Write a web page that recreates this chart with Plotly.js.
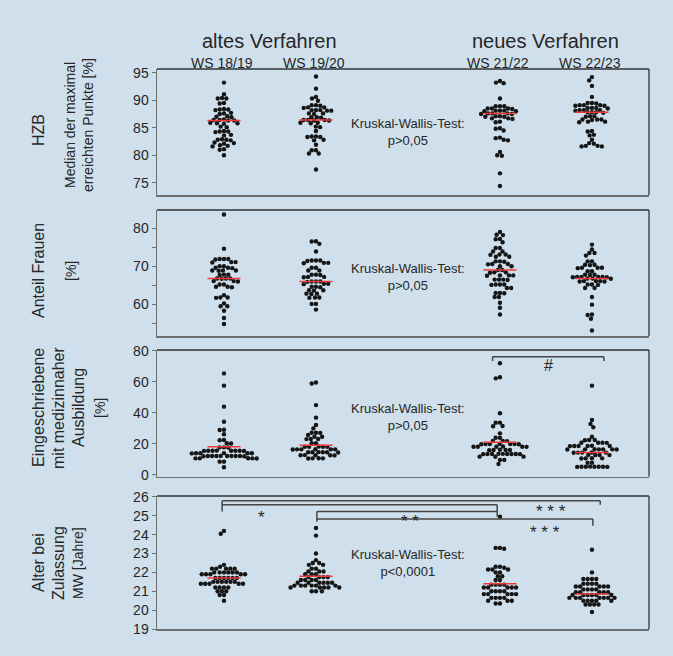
<!DOCTYPE html>
<html>
<head>
<meta charset="utf-8">
<script src="https://cdn.plot.ly/plotly-3.0.1.min.js"></script>
<style>html,body{margin:0;padding:0;background:#cfe0ec;}#chart{width:673px;height:656px;}</style>
</head>
<body>
<div id="chart"></div>
<script>
// ---------- data ----------
const categories = ['WS 18/19', 'WS 19/20', 'WS 21/22', 'WS 22/23'];
const groupTitles = ['altes Verfahren', 'neues Verfahren'];

const hzb_1819 = [93.2, 91.1, 90.4, 90.3, 90.3, 89.5, 89.4, 88.4, 88.3, 88.3, 88.2, 87.7, 87.6, 87.5, 87.1, 87.0, 86.9, 86.5, 86.4, 86.4, 86.3, 86.3, 85.9, 85.8, 85.8, 85.7, 85.2, 85.1, 84.4, 84.3, 84.3, 84.2, 83.7, 83.6, 82.9, 82.8, 82.8, 82.7, 82.3, 82.2, 82.1, 81.8, 81.7, 81.6, 81.1, 81.0, 80.0];
const hzb_1920 = [94.3, 92.1, 90.6, 90.3, 89.9, 89.1, 89.1, 89.0, 88.7, 88.7, 88.6, 88.2, 88.2, 88.2, 88.1, 88.1, 87.6, 87.6, 87.5, 86.9, 86.9, 86.8, 86.4, 86.4, 86.4, 86.3, 86.3, 85.9, 85.9, 85.8, 85.2, 85.1, 84.4, 83.4, 83.4, 83.3, 83.3, 82.8, 82.7, 81.9, 80.9, 80.9, 80.3, 80.3, 77.4];
const hzb_2122 = [93.5, 93.2, 93.1, 90.3, 88.9, 88.9, 88.9, 88.5, 88.5, 88.5, 88.4, 88.1, 88.1, 88.1, 88.0, 88.0, 87.6, 87.6, 87.6, 87.5, 87.5, 87.1, 87.1, 87.0, 87.0, 86.7, 86.7, 86.6, 86.1, 86.0, 84.9, 84.8, 84.5, 83.2, 83.1, 82.8, 82.7, 80.6, 80.0, 79.9, 76.7, 74.4];
const hzb_2223 = [94.2, 93.6, 92.6, 90.6, 89.5, 89.5, 89.4, 89.1, 89.1, 89.1, 89.0, 89.0, 88.6, 88.6, 88.6, 88.5, 88.2, 88.2, 88.2, 88.1, 87.8, 87.8, 87.8, 87.7, 87.1, 87.1, 87.0, 86.5, 86.5, 86.5, 86.4, 86.1, 86.1, 86.0, 84.4, 84.3, 83.7, 83.6, 82.8, 82.2, 82.1, 81.7, 81.7, 81.6, 81.6];
const hzb_mean = [86.3, 86.4, 87.6, 87.8];

const frauen_1819 = [83.6, 74.6, 71.9, 71.9, 71.8, 71.9, 71.1, 71.1, 71.0, 70.0, 70.0, 69.6, 69.6, 69.5, 68.9, 68.9, 68.8, 68.9, 67.8, 67.8, 67.7, 66.8, 66.8, 66.7, 66.8, 66.1, 66.1, 66.0, 65.2, 65.2, 64.6, 64.6, 64.5, 62.4, 61.8, 61.8, 61.7, 60.2, 59.5, 59.5, 58.3, 56.4, 54.8];
const frauen_1920 = [76.6, 76.5, 75.9, 73.9, 71.5, 71.5, 71.4, 71.5, 70.9, 70.9, 70.8, 69.6, 69.6, 68.9, 68.9, 67.8, 67.8, 67.7, 67.2, 67.2, 67.1, 66.0, 66.0, 65.9, 66.0, 65.4, 65.4, 65.3, 64.6, 64.6, 64.5, 63.7, 63.7, 63.6, 62.8, 62.8, 62.7, 61.8, 61.8, 61.7, 60.1, 60.1, 58.6];
const frauen_2122 = [79.0, 78.3, 78.2, 77.2, 77.1, 76.3, 74.8, 74.8, 73.9, 73.9, 73.1, 73.1, 73.0, 72.5, 72.5, 71.3, 71.3, 71.2, 70.6, 70.6, 70.5, 70.0, 70.0, 69.0, 69.0, 68.4, 68.4, 68.3, 67.6, 67.6, 67.5, 67.6, 66.5, 66.5, 66.4, 66.5, 65.2, 65.2, 65.1, 65.2, 64.3, 64.3, 63.0, 63.0, 62.9, 61.9, 61.9, 60.4, 59.1, 57.3];
const frauen_2223 = [75.7, 74.4, 73.5, 73.5, 72.8, 71.3, 71.3, 70.4, 70.4, 70.3, 69.6, 69.6, 69.5, 69.6, 68.7, 68.7, 67.8, 67.8, 67.7, 67.2, 67.2, 67.1, 67.2, 67.2, 67.1, 66.8, 66.8, 66.7, 66.1, 66.1, 66.0, 66.1, 66.0, 65.2, 65.2, 65.1, 64.3, 64.3, 61.9, 59.9, 57.3, 57.2, 56.2, 53.1];
const frauen_mean = [66.8, 66.0, 69.0, 66.8];

const med_1819 = [65.4, 57.5, 44.0, 34.3, 29.0, 29.1, 26.2, 22.5, 22.4, 20.4, 20.3, 17.8, 17.8, 17.7, 15.6, 15.6, 15.5, 15.6, 15.7, 15.6, 15.5, 15.6, 14.0, 14.0, 14.1, 13.9, 14.0, 14.0, 12.2, 12.2, 12.1, 12.2, 12.3, 12.2, 12.2, 12.1, 12.2, 12.2, 10.7, 10.7, 10.6, 10.7, 10.8, 8.6, 8.6, 5.0];
const med_1920 = [59.5, 58.9, 45.0, 36.9, 32.2, 30.0, 27.2, 27.2, 27.1, 25.7, 24.6, 24.6, 23.2, 23.2, 23.1, 20.4, 20.4, 18.2, 18.2, 18.1, 18.2, 18.3, 16.5, 16.5, 16.4, 16.5, 16.6, 16.5, 14.6, 14.6, 14.5, 14.6, 14.7, 14.6, 12.7, 12.7, 12.6, 12.7, 12.8, 10.7, 10.7, 10.6, 10.8];
const med_2122 = [71.9, 62.9, 62.2, 39.7, 33.7, 33.6, 31.5, 31.4, 26.8, 24.0, 24.0, 21.9, 21.9, 21.8, 19.9, 19.9, 19.8, 19.9, 20.0, 19.9, 19.8, 18.2, 18.2, 18.1, 18.2, 18.3, 18.2, 16.1, 16.1, 16.0, 16.1, 16.2, 13.5, 13.5, 13.4, 13.5, 13.6, 13.5, 13.4, 13.5, 13.6, 11.8, 11.8, 11.7, 9.7, 9.7, 7.1];
const med_2223 = [57.5, 35.4, 32.8, 30.7, 24.6, 22.5, 22.5, 22.4, 20.8, 20.8, 20.7, 20.8, 18.7, 18.7, 18.6, 18.7, 18.8, 18.7, 16.5, 16.5, 16.4, 16.5, 16.6, 16.5, 16.4, 14.4, 14.4, 14.3, 14.4, 14.5, 12.9, 12.9, 12.8, 12.9, 10.7, 10.7, 10.6, 10.8, 7.9, 7.9, 5.3, 5.3, 5.2, 5.3, 5.4, 5.3, 5.2, 5.3];
const med_mean = [18.2, 19.1, 21.0, 14.4];

const alter_1819 = [24.2, 24.05, 22.4, 22.3, 22.2, 22.2, 22.2, 22.2, 22.2, 22.0, 22.0, 22.0, 22.0, 22.0, 22.0, 21.9, 21.9, 21.9, 21.9, 21.9, 21.7, 21.7, 21.7, 21.7, 21.7, 21.7, 21.5, 21.5, 21.5, 21.5, 21.5, 21.5, 21.4, 21.4, 21.4, 21.4, 21.4, 21.2, 21.2, 21.2, 21.2, 21.0, 21.0, 21.0, 20.8, 20.8, 20.5];
const alter_1920 = [24.35, 23.95, 23.0, 22.65, 22.5, 22.5, 22.4, 22.4, 22.2, 22.2, 22.05, 22.05, 22.05, 21.9, 21.9, 21.9, 21.75, 21.75, 21.75, 21.75, 21.6, 21.6, 21.6, 21.6, 21.45, 21.45, 21.45, 21.45, 21.45, 21.45, 21.3, 21.3, 21.3, 21.3, 21.3, 21.3, 21.2, 21.2, 21.2, 21.2, 21.2, 21.0, 21.0, 21.0];
const alter_2122 = [24.95, 23.3, 23.3, 23.25, 22.3, 22.3, 22.25, 22.15, 22.15, 22.15, 22.0, 22.0, 21.8, 21.8, 21.6, 21.6, 21.35, 21.35, 21.35, 21.35, 21.2, 21.2, 21.2, 21.2, 21.2, 21.0, 21.0, 21.0, 21.0, 20.85, 20.85, 20.85, 20.85, 20.85, 20.65, 20.65, 20.65, 20.65, 20.5, 20.5, 20.5, 20.35, 20.35];
const alter_2223 = [23.2, 22.0, 21.65, 21.65, 21.65, 21.65, 21.4, 21.4, 21.4, 21.4, 21.25, 21.25, 21.25, 21.25, 21.25, 21.1, 21.1, 21.1, 21.1, 20.95, 20.95, 20.95, 20.95, 20.95, 20.8, 20.8, 20.8, 20.8, 20.8, 20.8, 20.65, 20.65, 20.65, 20.65, 20.65, 20.65, 20.65, 20.5, 20.5, 20.5, 20.5, 20.5, 20.3, 20.3, 20.3, 20.3, 19.9];
const alter_mean = [21.7, 21.8, 21.4, 20.85];

const testTexts = ['Kruskal-Wallis-Test:<br>p&gt;0,05', 'Kruskal-Wallis-Test:<br>p&gt;0,05', 'Kruskal-Wallis-Test:<br>p&gt;0,05', 'Kruskal-Wallis-Test:<br>p&lt;0,0001'];

// ---------- layout geometry ----------
const W = 673, H = 656;
const positions = [1, 2, 4, 5];          // column slots on the x axis
const xRange = [0.272, 5.62];
const xDomain = [157 / W, 649 / W];
const pxPerX = (xDomain[1] - xDomain[0]) * W / (xRange[1] - xRange[0]);
const panels = [
  { groups: [hzb_1819, hzb_1920, hzb_2122, hzb_2223], means: hzb_mean, top: 69, bottom: 195, range: [72.76, 95.67], dtick: 5 },
  { groups: [frauen_1819, frauen_1920, frauen_2122, frauen_2223], means: frauen_mean, top: 210, bottom: 336, range: [51.66, 84.8], dtick: 10, minor: 5 },
  { groups: [med_1819, med_1920, med_2122, med_2223], means: med_mean, top: 350, bottom: 476.5, range: [-0.97, 80.45], dtick: 20 },
  { groups: [alter_1819, alter_1920, alter_2122, alter_2223], means: alter_mean, top: 496, bottom: 629, range: [19, 26.05], dtick: 1 }
];

// beeswarm offsets (pixel space) computed from values
function swarm(vals, pxPerUnit, d) {
  const idx = vals.map((v, i) => i).sort((a, b) => vals[b] - vals[a]);
  const placed = [];
  const out = new Array(vals.length);
  for (const i of idx) {
    const y = vals[i] * pxPerUnit;
    const iv = [];
    for (const p of placed) {
      const dy = Math.abs(p.y - y);
      if (dy < d) { const dx = Math.sqrt(d * d - dy * dy); iv.push([p.x - dx, p.x + dx]); }
    }
    const cands = [0];
    iv.forEach(r => { cands.push(r[0], r[1]); });
    cands.sort((a, b) => Math.abs(a) - Math.abs(b) || a - b);
    let best = 0;
    for (const c of cands) {
      if (!iv.some(r => c > r[0] + 1e-6 && c < r[1] - 1e-6)) { best = c; break; }
    }
    placed.push({ x: best, y: y });
    out[i] = best;
  }
  return out;
}

const traces = [];
const layout = {
  width: W, height: H,
  margin: { l: 0, r: 0, t: 0, b: 0 },
  paper_bgcolor: '#cfe0ec', plot_bgcolor: '#cfe0ec',
  showlegend: false,
  font: { family: 'Liberation Sans, Arial, sans-serif', color: '#262626', size: 14 },
  shapes: [], annotations: []
};
const axisLine = '#6f6f6f';

panels.forEach((pn, k) => {
  const n = k + 1;
  const xa = 'x' + (n === 1 ? '' : n), ya = 'y' + (n === 1 ? '' : n);
  const dom = [1 - pn.bottom / H, 1 - pn.top / H];
  const pxPerY = (pn.bottom - pn.top) / (pn.range[1] - pn.range[0]);
  layout['xaxis' + (n === 1 ? '' : n)] = {
    domain: xDomain, range: xRange, anchor: ya, showgrid: false, zeroline: false,
    showticklabels: false, ticks: '', showline: true, linecolor: axisLine, linewidth: 1.5, fixedrange: true
  };
  const yax = {
    domain: dom, range: pn.range, anchor: xa, showgrid: false, zeroline: false,
    showline: true, linecolor: axisLine, linewidth: 1.5, ticks: 'outside', ticklen: 4, tickwidth: 1,
    tickcolor: axisLine, dtick: pn.dtick, tick0: 0, tickfont: { size: 14, color: '#262626' }, automargin: false
  };
  if (pn.minor) yax.minor = { dtick: pn.minor, ticks: 'outside', ticklen: 4, tickcolor: axisLine, showgrid: false };
  layout['yaxis' + (n === 1 ? '' : n)] = yax;
  // top & right frame lines
  layout.shapes.push({ type: 'line', xref: xa + ' domain', yref: ya + ' domain', x0: 0, x1: 1, y0: 1, y1: 1, line: { color: '#333', width: 1.3 } });
  layout.shapes.push({ type: 'line', xref: xa + ' domain', yref: ya + ' domain', x0: 1, x1: 1, y0: 0, y1: 1, line: { color: '#333', width: 1.3 } });

  const xs = [], ys = [];
  pn.groups.forEach((g, gi) => {
    const off = swarm(g, pxPerY, 4.3);
    g.forEach((v, i) => { xs.push(positions[gi] + off[i] / pxPerX); ys.push(v); });
  });
  traces.push({ type: 'scatter', mode: 'markers', x: xs, y: ys, xaxis: xa, yaxis: ya,
    marker: { color: '#151515', size: 4.4, line: { width: 0 } }, hoverinfo: 'y' });
  const mx = [], my = [];
  pn.means.forEach((m, gi) => { mx.push(positions[gi] - 0.18, positions[gi] + 0.18, null); my.push(m, m, null); });
  traces.push({ type: 'scatter', mode: 'lines', x: mx, y: my, xaxis: xa, yaxis: ya,
    line: { color: '#ee3b3b', width: 1.5 }, hoverinfo: 'skip' });
  layout.annotations.push({ xref: xa, yref: ya + ' domain', x: 3.0, y: [0.5, 0.47, 0.47, 0.5][k],
    text: testTexts[k], showarrow: false, align: 'center', font: { size: 13, color: '#262626' } });
});

// column headers
categories.forEach((c, i) => {
  layout.annotations.push({ xref: 'x', yref: 'paper', x: positions[i] - 0.02, y: 1 - 63 / H, text: c,
    showarrow: false, yanchor: 'middle', font: { size: 14, color: '#262626' } });
});
layout.annotations.push({ xref: 'x', yref: 'paper', x: 1.5, y: 1 - 41 / H, text: groupTitles[0], showarrow: false, yanchor: 'middle', font: { size: 20, color: '#262626' } });
layout.annotations.push({ xref: 'x', yref: 'paper', x: 4.5, y: 1 - 41 / H, text: groupTitles[1], showarrow: false, yanchor: 'middle', font: { size: 20, color: '#262626' } });

// y-axis titles
function ytitle(text, xpx, ypx, size) {
  layout.annotations.push({ xref: 'paper', yref: 'paper', x: xpx / W, y: 1 - ypx / H, text: text, textangle: -90,
    showarrow: false, xanchor: 'center', yanchor: 'middle', font: { size: size, color: '#262626' } });
}
ytitle('HZB', 38, 130, 16);
ytitle('Median der maximal', 70, 125, 14);
ytitle('erreichten Punkte [%]', 88, 125, 14);
ytitle('Anteil Frauen', 38, 271, 16);
ytitle('[%]', 71, 271, 14);
ytitle('Eingeschriebene', 38, 408, 16);
ytitle('mit medizinnaher', 58, 408, 16);
ytitle('Ausbildung', 78, 408, 16);
ytitle('[%]', 100, 408, 14);
ytitle('Alter bei', 38, 563, 16);
ytitle('Zulassung', 58, 563, 16);
ytitle('MW [Jahre]', 78, 563, 14);

// significance brackets
const bc = { color: '#454545', width: 1.5 };
function seg(xa, ya, x0, y0, x1, y1) { layout.shapes.push({ type: 'line', xref: xa, yref: ya, x0, y0, x1, y1, line: bc }); }
seg('x3', 'y3', 3.92, 76.1, 5.13, 76.1); seg('x3', 'y3', 3.92, 76.1, 3.92, 73.4); seg('x3', 'y3', 5.13, 76.1, 5.13, 73.4);
layout.annotations.push({ xref: 'x3', yref: 'y3', x: 4.53, y: 70.6, text: '#', showarrow: false, font: { size: 16, color: '#262626' } });
seg('x4', 'y4', 0.98, 25.8, 5.09, 25.8); seg('x4', 'y4', 0.98, 25.8, 0.98, 25.23); seg('x4', 'y4', 5.09, 25.8, 5.09, 25.58);
seg('x4', 'y4', 0.98, 25.58, 3.97, 25.58); seg('x4', 'y4', 3.97, 25.58, 3.97, 24.95);
seg('x4', 'y4', 2.01, 25.23, 3.97, 25.23); seg('x4', 'y4', 2.01, 25.23, 2.01, 24.68);
seg('x4', 'y4', 2.01, 24.83, 5.01, 24.83); seg('x4', 'y4', 5.01, 24.83, 5.01, 24.47);
function star(x, y, t) { layout.annotations.push({ xref: 'x4', yref: 'y4', x, y, text: t, showarrow: false, font: { size: 17, color: '#262626' } }); }
star(4.55, 25.24, '* * *'); star(1.41, 24.92, '*'); star(3.02, 24.7, '* *'); star(4.49, 24.12, '* * *');

Plotly.newPlot('chart', traces, layout, { displayModeBar: false, staticPlot: true });
</script>
</body>
</html>
